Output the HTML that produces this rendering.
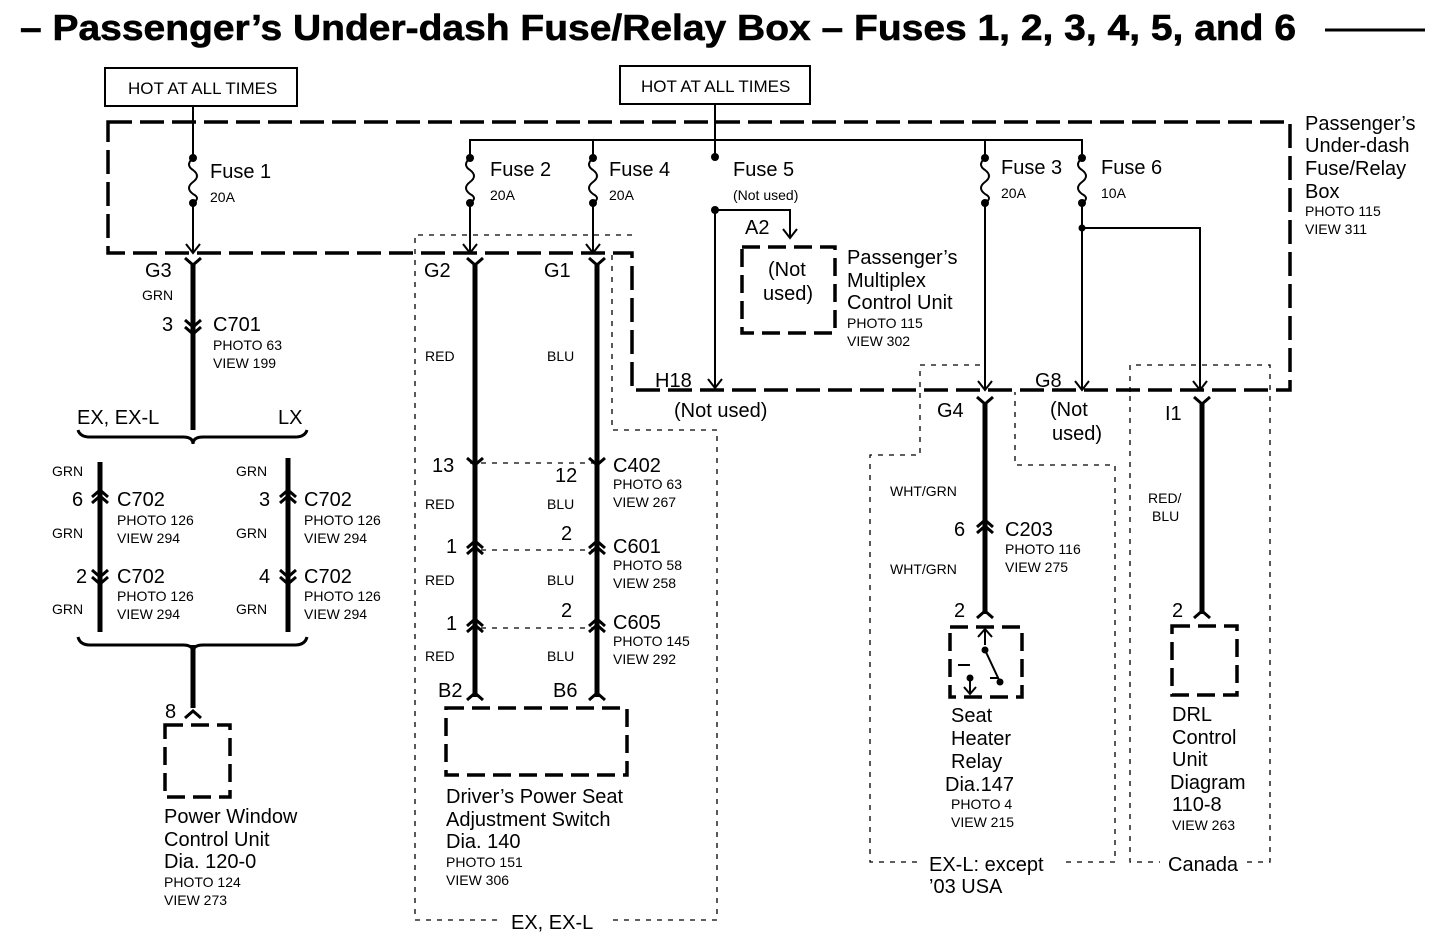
<!DOCTYPE html>
<html><head><meta charset="utf-8"><style>
body{margin:0;background:#fff}
svg{display:block;font-family:"Liberation Sans",Arial,sans-serif}
.b{font-size:20px}
.s{font-size:14px}
.m{font-size:17px}
</style></head><body>
<svg width="1456" height="942" viewBox="0 0 1456 942" xmlns="http://www.w3.org/2000/svg">
<text x="20" y="40" font-size="36" font-weight="bold" textLength="1276" lengthAdjust="spacingAndGlyphs" stroke="#000" stroke-width="0.6">– Passenger’s Under-dash Fuse/Relay Box – Fuses 1, 2, 3, 4, 5, and 6</text>
<line x1="1325" y1="30" x2="1425" y2="30" stroke="#000" stroke-width="3"/>

<g fill="none" stroke="#000" stroke-width="2">
<rect x="105" y="68" width="192" height="38"/>
<rect x="620" y="66" width="190" height="38"/>
</g>
<text x="128" y="94" class="m">HOT AT ALL TIMES</text>
<text x="641" y="92" class="m">HOT AT ALL TIMES</text>

<!-- fuse box dashed -->
<path d="M108 122 H1290 V390 H632 V253 H108 Z" fill="none" stroke="#000" stroke-width="3.5" stroke-dasharray="24 8"/>

<!-- dotted enclosures -->
<g fill="none" stroke="#000" stroke-width="1.3" stroke-dasharray="5 6">
<path d="M632 235 H415 V920 H717 V430 H612 V255"/>
<path d="M980 365 H920 V455 H870 V862 H1115 V465 H1015 V392"/>
<path d="M1130 392 V365 H1270 V862 H1130 V392"/>
<line x1="470" y1="463" x2="597" y2="463"/>
<line x1="470" y1="550" x2="597" y2="550"/>
<line x1="470" y1="628" x2="597" y2="628"/>
</g>
<g fill="#fff">
<rect x="500" y="910" width="110" height="20"/>
<rect x="922" y="852" width="140" height="20"/>
<rect x="1160" y="852" width="85" height="20"/>
</g>

<!-- thin wires -->
<g fill="none" stroke="#000" stroke-width="2">
<line x1="193" y1="106" x2="193" y2="158"/>
<line x1="193" y1="203" x2="193" y2="253"/>
<line x1="715" y1="104" x2="715" y2="157"/>
<path d="M470 158 V140 H1082 V158"/>
<line x1="593" y1="140" x2="593" y2="158"/>
<line x1="985" y1="140" x2="985" y2="158"/>
<line x1="470" y1="203" x2="470" y2="253"/>
<line x1="593" y1="203" x2="593" y2="253"/>
<line x1="985" y1="203" x2="985" y2="390"/>
<line x1="1082" y1="203" x2="1082" y2="390"/>
<path d="M1082 228 H1200 V390"/>
<path d="M715 210 V388"/>
<path d="M715 210 H790 V238"/>
<path d="M193 158 q-8 7 0 12 q8 6 0 12 q-8 6 0 12 q8 4 0 9"/>
<path d="M470 158 q-8 7 0 12 q8 6 0 12 q-8 6 0 12 q8 4 0 9"/>
<path d="M593 158 q-8 7 0 12 q8 6 0 12 q-8 6 0 12 q8 4 0 9"/>
<path d="M985 158 q-8 7 0 12 q8 6 0 12 q-8 6 0 12 q8 4 0 9"/>
<path d="M1082 158 q-8 7 0 12 q8 6 0 12 q-8 6 0 12 q8 4 0 9"/>
<path d="M186 244 L193 253 L200 244 M463 244 L470 253 L477 244 M586 244 L593 253 L600 244 M978 381 L985 390 L992 381 M1075 381 L1082 390 L1089 381 M1193 381 L1200 390 L1207 381 M708 379 L715 388 L722 379 M783 229 L790 238 L797 229"/>
</g>
<g fill="#000">
<circle cx="193" cy="158" r="4"/><circle cx="193" cy="203" r="4"/>
<circle cx="470" cy="158" r="4"/><circle cx="470" cy="203" r="4"/>
<circle cx="593" cy="158" r="4"/><circle cx="593" cy="203" r="4"/>
<circle cx="985" cy="158" r="4"/><circle cx="985" cy="203" r="4"/>
<circle cx="1082" cy="158" r="4"/><circle cx="1082" cy="203" r="4"/>
<circle cx="715" cy="157" r="4"/><circle cx="715" cy="210" r="4"/>
<circle cx="1082" cy="228" r="3.5"/>
</g>

<!-- thick wires -->
<g fill="none" stroke="#000" stroke-width="5">
<line x1="193" y1="265" x2="193" y2="430"/>
<line x1="100" y1="462" x2="100" y2="632"/>
<line x1="288" y1="458" x2="288" y2="632"/>
<line x1="193" y1="645" x2="193" y2="708"/>
<line x1="475" y1="265" x2="475" y2="697"/>
<line x1="597" y1="265" x2="597" y2="697"/>
<line x1="985" y1="402" x2="985" y2="614"/>
<line x1="1202" y1="402" x2="1202" y2="614"/>
</g>
<g fill="none" stroke="#000" stroke-width="3">
<path d="M78 430 Q80 437 90 437 H183 Q193 437 193 444 Q193 437 203 437 H295 Q305 437 307 430"/>
<path d="M78 637 Q80 645 90 645 H183 Q193 645 193 652 Q193 645 203 645 H295 Q305 645 307 637"/>
<path d="M185 258 L193 265 L201 258 M185 320 L193 327 L201 320 M185 327 L193 334 L201 327"/>
<path d="M467 258 L475 265 L483 258 M589 258 L597 265 L605 258"/>
<path d="M977 397 L985 404 L993 397 M1194 397 L1202 404 L1210 397"/>
<path d="M467 458 L475 465 L483 458 M589 458 L597 465 L605 458"/>
<path d="M467 548 L475 541 L483 548 M467 554 L475 547 L483 554 M589 548 L597 541 L605 548 M589 554 L597 547 L605 554"/>
<path d="M467 626 L475 619 L483 626 M467 632 L475 625 L483 632 M589 626 L597 619 L605 626 M589 632 L597 625 L605 632"/>
<path d="M467 700 L475 693 L483 700 M589 700 L597 693 L605 700"/>
<path d="M92 497 L100 490 L108 497 M92 503 L100 496 L108 503 M280 497 L288 490 L296 497 M280 503 L288 496 L296 503"/>
<path d="M92 570 L100 577 L108 570 M92 577 L100 584 L108 577 M280 570 L288 577 L296 570 M280 577 L288 584 L296 577"/>
<path d="M977 527 L985 520 L993 527 M977 533 L985 526 L993 533"/>
<path d="M977 618 L985 611 L993 618 M1194 618 L1202 611 L1210 618 M185 718 L193 711 L201 718"/>
</g>

<g fill="none" stroke="#000" stroke-width="3.5" stroke-dasharray="18 8">
<rect x="742" y="247" width="93" height="86"/>
<rect x="165" y="725" width="65" height="72"/>
<rect x="446" y="708" width="181" height="67"/>
<rect x="950" y="627" width="72" height="70"/>
<rect x="1172" y="626" width="65" height="69"/>
</g>
<g fill="none" stroke="#000" stroke-width="2">
<line x1="985" y1="627" x2="985" y2="645"/>
<path d="M978 637 L985 629 L992 637"/>
<path d="M985 650 L1000 682"/>
<line x1="970" y1="678" x2="970" y2="693"/>
<path d="M964 687 L970 694 L976 687"/>
<line x1="958" y1="665" x2="970" y2="665"/>
<line x1="990" y1="678" x2="998" y2="678"/>
</g>
<g fill="#000"><circle cx="985" cy="650" r="3.5"/><circle cx="1000" cy="682" r="3.5"/><circle cx="970" cy="678" r="3.5"/></g>

<g class="b">
<text x="210" y="178">Fuse 1</text>
<text x="490" y="176">Fuse 2</text>
<text x="609" y="176">Fuse 4</text>
<text x="733" y="176">Fuse 5</text>
<text x="1001" y="174">Fuse 3</text>
<text x="1101" y="174">Fuse 6</text>
<text x="1305" y="130">Passenger’s</text>
<text x="1305" y="152">Under-dash</text>
<text x="1305" y="175">Fuse/Relay</text>
<text x="1305" y="198">Box</text>
<text x="745" y="234">A2</text>
<text x="768" y="276">(Not</text>
<text x="763" y="300">used)</text>
<text x="847" y="264">Passenger’s</text>
<text x="847" y="287">Multiplex</text>
<text x="847" y="309">Control Unit</text>
<text x="145" y="277">G3</text>
<text x="424" y="277">G2</text>
<text x="544" y="277">G1</text>
<text x="162" y="331">3</text>
<text x="213" y="331">C701</text>
<text x="77" y="424">EX, EX-L</text>
<text x="278" y="424">LX</text>
<text x="655" y="387">H18</text>
<text x="674" y="417">(Not used)</text>
<text x="1035" y="387">G8</text>
<text x="1050" y="416">(Not</text>
<text x="1052" y="440">used)</text>
<text x="937" y="417">G4</text>
<text x="1165" y="420">I1</text>
<text x="432" y="472">13</text>
<text x="555" y="482">12</text>
<text x="613" y="472">C402</text>
<text x="446" y="553">1</text>
<text x="561" y="540">2</text>
<text x="613" y="553">C601</text>
<text x="446" y="630">1</text>
<text x="561" y="617">2</text>
<text x="613" y="629">C605</text>
<text x="72" y="506">6</text>
<text x="117" y="506">C702</text>
<text x="259" y="506">3</text>
<text x="304" y="506">C702</text>
<text x="76" y="583">2</text>
<text x="117" y="583">C702</text>
<text x="259" y="583">4</text>
<text x="304" y="583">C702</text>
<text x="954" y="536">6</text>
<text x="1005" y="536">C203</text>
<text x="954" y="617">2</text>
<text x="1172" y="617">2</text>
<text x="165" y="718">8</text>
<text x="438" y="697">B2</text>
<text x="553" y="697">B6</text>
<text x="164" y="823">Power Window</text>
<text x="164" y="846">Control Unit</text>
<text x="164" y="868">Dia. 120-0</text>
<text x="446" y="803">Driver’s Power Seat</text>
<text x="446" y="826">Adjustment Switch</text>
<text x="446" y="848">Dia. 140</text>
<text x="951" y="722">Seat</text>
<text x="951" y="745">Heater</text>
<text x="951" y="768">Relay</text>
<text x="945" y="791">Dia.147</text>
<text x="1172" y="721">DRL</text>
<text x="1172" y="744">Control</text>
<text x="1172" y="766">Unit</text>
<text x="1170" y="789">Diagram</text>
<text x="1172" y="811">110-8</text>
<text x="511" y="929">EX, EX-L</text>
<text x="929" y="871">EX-L: except</text>
<text x="929" y="893">’03 USA</text>
<text x="1168" y="871">Canada</text>
</g>
<g class="s">
<text x="210" y="202">20A</text>
<text x="490" y="200">20A</text>
<text x="609" y="200">20A</text>
<text x="733" y="200">(Not used)</text>
<text x="1001" y="198">20A</text>
<text x="1101" y="198">10A</text>
<text x="1305" y="216">PHOTO 115</text>
<text x="1305" y="234">VIEW 311</text>
<text x="847" y="328">PHOTO 115</text>
<text x="847" y="346">VIEW 302</text>
<text x="142" y="300">GRN</text>
<text x="213" y="350">PHOTO 63</text>
<text x="213" y="368">VIEW 199</text>
<text x="425" y="361">RED</text>
<text x="547" y="361">BLU</text>
<text x="425" y="509">RED</text>
<text x="547" y="509">BLU</text>
<text x="425" y="585">RED</text>
<text x="547" y="585">BLU</text>
<text x="425" y="661">RED</text>
<text x="547" y="661">BLU</text>
<text x="613" y="489">PHOTO 63</text>
<text x="613" y="507">VIEW 267</text>
<text x="613" y="570">PHOTO 58</text>
<text x="613" y="588">VIEW 258</text>
<text x="613" y="646">PHOTO 145</text>
<text x="613" y="664">VIEW 292</text>
<text x="52" y="476">GRN</text>
<text x="236" y="476">GRN</text>
<text x="52" y="538">GRN</text>
<text x="236" y="538">GRN</text>
<text x="52" y="614">GRN</text>
<text x="236" y="614">GRN</text>
<text x="117" y="525">PHOTO 126</text>
<text x="117" y="543">VIEW 294</text>
<text x="304" y="525">PHOTO 126</text>
<text x="304" y="543">VIEW 294</text>
<text x="117" y="601">PHOTO 126</text>
<text x="117" y="619">VIEW 294</text>
<text x="304" y="601">PHOTO 126</text>
<text x="304" y="619">VIEW 294</text>
<text x="890" y="496">WHT/GRN</text>
<text x="890" y="574">WHT/GRN</text>
<text x="1005" y="554">PHOTO 116</text>
<text x="1005" y="572">VIEW 275</text>
<text x="1148" y="503">RED/</text>
<text x="1152" y="521">BLU</text>
<text x="164" y="887">PHOTO 124</text>
<text x="164" y="905">VIEW 273</text>
<text x="446" y="867">PHOTO 151</text>
<text x="446" y="885">VIEW 306</text>
<text x="951" y="809">PHOTO 4</text>
<text x="951" y="827">VIEW 215</text>
<text x="1172" y="830">VIEW 263</text>
</g>
</svg>
</body></html>
